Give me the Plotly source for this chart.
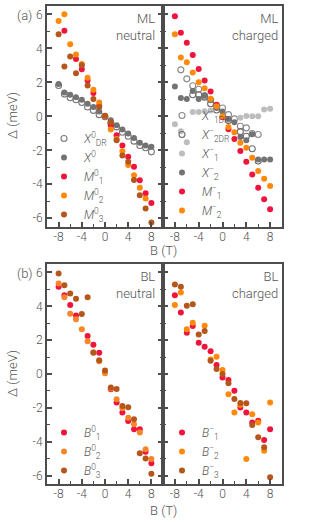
import plotly.graph_objects as go

# ---------------- data ----------------
B = list(range(-8, 9))

# (a) ML neutral
ml_n_X0DR = [1.82, 1.31, 1.10, 0.98, 0.82, 0.55, 0.35, 0.10, -0.02, -0.39, -0.62, -0.94, -1.17, -1.46, -1.72, -1.85, -2.09]
ml_n_X0 = [1.90, 1.41, 1.27, 1.13, 0.98, 0.74, 0.55, 0.28, 0.02, -0.23, -0.53, -0.78, -1.01, -1.27, -1.56, -1.72, -1.79]
ml_n_M1 = [None, 5.04, None, 3.38, 2.78, 2.11, 1.37, 0.63, 0.00, -0.54, -1.11, -1.72, -2.38, -2.97, -3.77, -4.53, -5.11]
ml_n_M2 = [5.62, 6.02, 4.24, 3.65, 3.09, 2.28, 1.56, 0.82, 0.02, -0.78, -1.33, -2.05, -2.87, -3.47, -4.20, -4.84, None]
ml_n_M3 = [4.83, 2.93, 3.52, 2.54, 3.01, 1.82, 1.02, 0.55, 0.04, -0.35, -1.41, -2.30, -2.67, -3.75, -4.65, -5.43, -6.25]

# (a) ML charged
ml_c_X1DR = [None, 2.74, 2.21, 1.80, 1.60, 1.21, 0.98, 0.63, 0.49, 0.10, -0.15, -0.58, -0.68, -1.01, -1.07, None, None]
ml_c_X2DR = [None, None, None, 1.27, 1.27, 1.13, 0.74, 0.37, None, -0.25, None, -0.90, -1.17, -1.91, -2.63, None, None]
ml_c_X1 = [-0.47, -0.88, -1.52, 0.26, 0.26, 0.30, 0.35, None, None, None, None, -0.08, 0.02, 0.00, 0.00, 0.40, 0.45]
ml_c_X2 = [1.76, 1.08, 1.02, 1.50, 1.02, 1.25, 0.98, 0.49, 0.29, -0.15, -0.35, -1.21, -1.41, -1.05, -2.54, -2.54, -2.54]
ml_c_M1 = [5.90, 4.92, 4.34, 3.61, 2.79, 2.11, 1.47, 0.69, -0.05, -0.76, -1.34, -2.04, -2.67, -3.42, -4.20, -4.88, -5.47]
ml_c_M2 = [4.84, 3.46, 3.18, 2.58, 2.01, 1.66, 1.04, 0.59, 0.00, -0.62, -0.93, -1.56, -1.85, -2.44, -3.22, -3.67, -4.10]

# (b) BL neutral
bl_n_B1 = [5.15, 4.66, 4.07, 3.46, None, 2.24, 1.73, 1.26, None, -0.90, -1.69, -2.28, -2.77, -3.26, -3.26, -4.59, -5.27]
bl_n_B2 = [5.35, 4.53, 3.56, 3.24, 2.64, 1.93, 1.28, 0.76, 0.04, -0.85, -1.49, -2.03, -2.58, -2.97, -3.46, -4.45, -5.02]
bl_n_B3 = [5.94, 5.25, 4.76, 4.45, 3.55, 4.53, 1.25, 0.81, 0.21, -0.80, -0.88, -1.89, -1.97, -2.67, -4.68, -5.00, -5.90]

# (b) BL charged
bl_c_B1 = [4.66, 3.64, 2.44, 2.83, 1.85, 1.61, 1.34, 0.53, -0.20, -0.35, -0.99, -1.98, -2.28, -2.87, -2.76, -3.90, -3.27]
bl_c_B2 = [4.07, 4.82, 2.65, 3.03, None, 2.85, 0.85, 1.02, 0.24, -1.19, -2.28, -1.83, -5.02, -2.38, -2.87, -4.53, -1.69]
bl_c_B3 = [5.29, 5.15, 4.04, 4.12, 2.34, 2.54, 0.78, 0.30, 0.00, -0.55, -1.48, -1.71, -1.73, -3.01, -3.74, -4.33, -6.10]

x_ticks = [-8, -4, 0, 4, 8]
x_ticktext = ["-8", "-4", "0", "4", "8"]
y_ticks = [-6, -4, -2, 0, 2, 4, 6]
y_ticktext = ["-6", "-4", "-2", "0", "2", "4", "6"]

# ---------------- styles ----------------
RED = "#f0143c"
ORANGE = "#ff8a0a"
BROWN = "#b5561b"
DGRAY = "#737373"
LGRAY = "#bdbdbd"
TXT = "#555555"
AX = "#4d4d4d"
FONT = "Roboto"
WEIGHT = 300

fig = go.Figure()


def add(y, name, color, xa, ya, leg, open_=False, ocolor=None):
    if open_:
        marker = dict(symbol="circle-open", size=6, color=ocolor or color, line=dict(width=1.1, color=ocolor or color))
    else:
        marker = dict(symbol="circle", size=6, color=color, line=dict(width=0))
    fig.add_trace(go.Scatter(x=B, y=y, mode="markers", name=name, marker=marker,
                             xaxis=xa, yaxis=ya, legend=leg))


add(ml_n_X0DR, "<i>X</i><sup>0</sup><sub>DR</sub>", DGRAY, "x", "y", "legend", open_=True, ocolor="#7a7a7a")
add(ml_n_X0, "<i>X</i><sup>0</sup>", DGRAY, "x", "y", "legend")
add(ml_n_M1, "<i>M</i><sup>0</sup><sub>1</sub>", RED, "x", "y", "legend")
add(ml_n_M2, "<i>M</i><sup>0</sup><sub>2</sub>", ORANGE, "x", "y", "legend")
add(ml_n_M3, "<i>M</i><sup>0</sup><sub>3</sub>", BROWN, "x", "y", "legend")

add(ml_c_X1DR, "<i>X</i><sup>−</sup><sub>1DR</sub>", DGRAY, "x2", "y2", "legend2", open_=True, ocolor="#8a8a8a")
add(ml_c_X2DR, "<i>X</i><sup>−</sup><sub>2DR</sub>", DGRAY, "x2", "y2", "legend2", open_=True, ocolor="#6e6e6e")
add(ml_c_X1, "<i>X</i><sup>−</sup><sub>1</sub>", LGRAY, "x2", "y2", "legend2")
add(ml_c_X2, "<i>X</i><sup>−</sup><sub>2</sub>", DGRAY, "x2", "y2", "legend2")
add(ml_c_M1, "<i>M</i><sup>−</sup><sub>1</sub>", RED, "x2", "y2", "legend2")
add(ml_c_M2, "<i>M</i><sup>−</sup><sub>2</sub>", ORANGE, "x2", "y2", "legend2")

add(bl_n_B1, "<i>B</i><sup>0</sup><sub>1</sub>", RED, "x3", "y3", "legend3")
add(bl_n_B2, "<i>B</i><sup>0</sup><sub>2</sub>", "#f7862a", "x3", "y3", "legend3")
add(bl_n_B3, "<i>B</i><sup>0</sup><sub>3</sub>", BROWN, "x3", "y3", "legend3")

add(bl_c_B1, "<i>B</i><sup>−</sup><sub>1</sub>", RED, "x4", "y4", "legend4")
add(bl_c_B2, "<i>B</i><sup>−</sup><sub>2</sub>", ORANGE, "x4", "y4", "legend4")
add(bl_c_B3, "<i>B</i><sup>−</sup><sub>3</sub>", BROWN, "x4", "y4", "legend4")

# ---------------- layout ----------------
W, H = 318, 524
ML, MR, MT, MB = 47, 36, 6, 40
PW, PH = W - ML - MR, H - MT - MB


def px2x(px):
    return (px - ML) / PW


def py2y(py):
    return (H - MB - py) / PH


xl = [0, px2x(163)]
xr = [px2x(163), 1]
ya_dom = [py2y(226.7), 1]
yb_dom = [0, py2y(264)]

tickfont = dict(family=FONT, size=12, color=TXT, weight=WEIGHT)


def xaxis(dom, anchor):
    return dict(domain=dom, anchor=anchor, range=[-10, 10], showgrid=False, zeroline=False,
                showline=True, linecolor=AX, linewidth=2, mirror=True,
                ticks="inside", ticklen=5, tickwidth=1.5, tickcolor=AX,
                tickvals=x_ticks, ticktext=x_ticktext, tickfont=tickfont,
                ticklabelstandoff=-2,
                minor=dict(tickvals=[-6, -2, 2, 6], ticks="inside", ticklen=3, tickwidth=1.2, tickcolor=AX),
                fixedrange=True, automargin=False)


def yaxis(dom, anchor, left):
    d = dict(domain=dom, anchor=anchor, range=[-6.5, 6.5], showgrid=False, zeroline=False,
             showline=True, linecolor=AX, linewidth=2,
             ticks="inside", ticklen=5, tickwidth=1.5, tickcolor=AX,
             tickvals=y_ticks, ticktext=y_ticktext, tickfont=tickfont,
             minor=dict(dtick=1, ticks="inside", ticklen=3, tickwidth=1.2, tickcolor=AX),
             fixedrange=True, automargin=False)
    if left:
        d["mirror"] = "ticks"
        d["showticklabels"] = True
    else:
        d["mirror"] = True
        d["showticklabels"] = False
    return d


legfont = dict(family=FONT, size=12, color=TXT, weight=WEIGHT)


def leg(x_px, y_px):
    return dict(x=px2x(x_px), y=py2y(y_px), xanchor="left", yanchor="top",
                bgcolor="rgba(0,0,0,0)", borderwidth=0, font=legfont,
                itemwidth=30, tracegroupgap=0)


ann = []
def note(text, x_px, y_px, xanchor="left", yanchor="top", size=13, angle=0, align="left"):
    ann.append(dict(text=text, x=px2x(x_px), y=py2y(y_px), xref="paper", yref="paper",
                    xanchor=xanchor, yanchor=yanchor, showarrow=False, textangle=angle,
                    align=align, font=dict(family=FONT, size=size, color=TXT, weight=WEIGHT)))

note("(a)", 15, 6)
note("(b)", 15, 264)
note("ML<br>neutral", 157, 9, xanchor="right", align="right")
note("ML<br>charged", 280, 9, xanchor="right", align="right")
note("BL<br>neutral", 157, 267, xanchor="right", align="right")
note("BL<br>charged", 280, 267, xanchor="right", align="right")
note("B (T)", 163, 250, xanchor="center", yanchor="middle")
note("B (T)", 163, 510, xanchor="center", yanchor="middle")
note("Δ (meV)", 12, 116, xanchor="center", yanchor="middle", angle=-90)
note("Δ (meV)", 12, 374, xanchor="center", yanchor="middle", angle=-90)

fig.update_layout(
    width=W, height=H, margin=dict(l=ML, r=MR, t=MT, b=MB, autoexpand=False),
    paper_bgcolor="white", plot_bgcolor="white",
    font=dict(family=FONT, color=TXT, weight=WEIGHT),
    xaxis=xaxis(xl, "y"), yaxis=yaxis(ya_dom, "x", True),
    xaxis2=xaxis(xr, "y2"), yaxis2=yaxis(ya_dom, "x2", False),
    xaxis3=xaxis(xl, "y3"), yaxis3=yaxis(yb_dom, "x3", True),
    xaxis4=xaxis(xr, "y4"), yaxis4=yaxis(yb_dom, "x4", False),
    legend=leg(44, 124), legend2=leg(162, 101),
    legend3=leg(44, 418), legend4=leg(162, 418),
    annotations=ann,
    showlegend=True,
)

fig.write_html("out.html", config={"displayModeBar": False},
               post_script="document.body.style.margin='0px';document.body.style.padding='0px';")
